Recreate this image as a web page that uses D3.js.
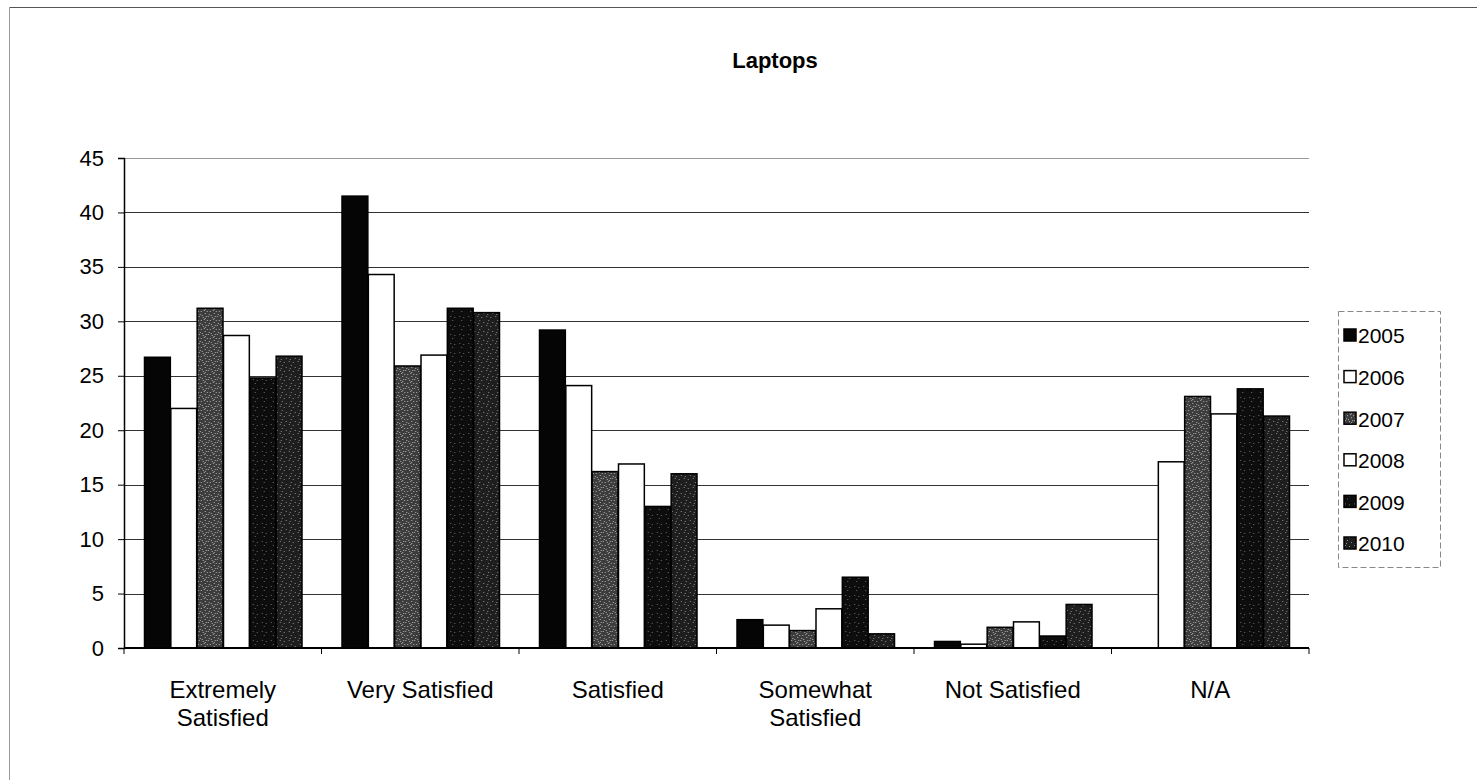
<!DOCTYPE html>
<html>
<head>
<meta charset="utf-8">
<script src="https://cdn.jsdelivr.net/npm/d3@7"></script>
<style>
  html, body { margin: 0; padding: 0; background: #fff; }
  svg { display: block; font-family: Arial, "Liberation Sans", sans-serif; }
</style>
</head>
<body>
<svg id="chart" width="1477" height="780"></svg>
<script>
const categories = [["Extremely", "Satisfied"], ["Very Satisfied"], ["Satisfied"], ["Somewhat", "Satisfied"], ["Not Satisfied"], ["N/A"]];
const years = ["2005", "2006", "2007", "2008", "2009", "2010"];
const v2005 = [26.7, 41.5, 29.2, 2.6, 0.6, 0];
const v2006 = [22.0, 34.3, 24.1, 2.1, 0.35, 17.1];
const v2007 = [31.2, 25.9, 16.2, 1.6, 1.9, 23.1];
const v2008 = [28.7, 26.9, 16.9, 3.6, 2.4, 21.5];
const v2009 = [24.8, 31.2, 13.0, 6.5, 1.1, 23.8];
const v2010 = [26.8, 30.8, 16.0, 1.3, 4.0, 21.3];
const yTicks = [0, 5, 10, 15, 20, 25, 30, 35, 40, 45];
const series = [v2005, v2006, v2007, v2008, v2009, v2010];

(function () {
const fills = ["#050505", "#ffffff", "url(#sp7)", "#ffffff", "url(#sp9)", "url(#sp10)"];

const svg = d3.select("#chart");
const defs = svg.append("defs");
function speckle(id, base, dot, n) {
  const p = defs.append("pattern").attr("id", id).attr("patternUnits", "userSpaceOnUse")
    .attr("width", 9).attr("height", 9);
  p.append("rect").attr("width", 9).attr("height", 9).attr("fill", base);
  const pts = [[1,1],[5,2],[3,5],[7,7],[2,8],[6,4],[8,1],[0,5],[4,0],[7,3]];
  pts.slice(0, n).forEach(([px, py]) => p.append("rect").attr("x", px).attr("y", py).attr("width", 1).attr("height", 1).attr("fill", dot));
}
speckle("sp7", "#3c3c3c", "#b0b0b0", 10);
speckle("sp9", "#0d0d0d", "#6a6a6a", 3);
speckle("sp10", "#1e1e1e", "#8a8a8a", 5);

svg.append("line").attr("x1", 9).attr("x2", 1477).attr("y1", 7.5).attr("y2", 7.5).attr("stroke", "#555").attr("stroke-width", 1);
svg.append("line").attr("x1", 9.5).attr("x2", 9.5).attr("y1", 7).attr("y2", 780).attr("stroke", "#999").attr("stroke-width", 1);

const pL = 124, pR = 1309, pT = 158, pB = 648;
const x0 = d3.scaleBand().domain(d3.range(categories.length)).range([pL, pR]).paddingInner(0.2).paddingOuter(0.1);
const x1 = d3.scaleBand().domain(d3.range(years.length)).range([0, x0.bandwidth()]);
const y = d3.scaleLinear().domain([0, 45]).range([pB, pT]);

svg.append("g").selectAll("line").data(yTicks.filter(d => d > 0)).join("line")
  .attr("x1", pL).attr("x2", pR)
  .attr("y1", d => Math.round(y(d)) + 0.5).attr("y2", d => Math.round(y(d)) + 0.5)
  .attr("stroke", d => d === 45 ? "#999" : "#333").attr("stroke-width", 1);

const groups = svg.append("g").selectAll("g").data(categories).join("g")
  .attr("transform", (d, i) => `translate(${x0(i)},0)`);
groups.selectAll("rect").data((d, i) => series.map((s, j) => ({ j, v: s[i] })).filter(e => e.v > 0)).join("rect")
  .attr("x", d => x1(d.j) + 0.75)
  .attr("width", x1.bandwidth() - 0.5)
  .attr("y", d => y(d.v))
  .attr("height", d => y(0) - y(d.v))
  .attr("fill", d => fills[d.j])
  .attr("stroke", "#000").attr("stroke-width", 1.5);

const yAxis = d3.axisLeft(y).tickValues(yTicks).tickSize(6).tickPadding(14).tickFormat(d3.format("d"));
const ga = svg.append("g").attr("transform", `translate(${pL},0)`).call(yAxis);
ga.select(".domain").attr("stroke", "#000").attr("stroke-width", 1.5);
ga.selectAll(".tick line").attr("stroke", "#000");
ga.selectAll(".tick text").attr("font-size", 22).attr("fill", "#000").attr("font-family", "Arial, 'Liberation Sans', sans-serif");

svg.append("line").attr("x1", pL).attr("x2", pR).attr("y1", pB).attr("y2", pB).attr("stroke", "#000").attr("stroke-width", 2);
const step = x0.step();
svg.append("g").selectAll("line").data(d3.range(categories.length + 1)).join("line")
  .attr("x1", i => pL + i * step).attr("x2", i => pL + i * step)
  .attr("y1", pB).attr("y2", pB + 6).attr("stroke", "#000");

const cl = svg.append("g").selectAll("text").data(categories).join("text")
  .attr("x", (d, i) => x0(i) + x0.bandwidth() / 2)
  .attr("y", 698)
  .attr("text-anchor", "middle").attr("font-size", 24).attr("fill", "#000");
cl.selectAll("tspan").data(d => d).join("tspan")
  .attr("x", function () { return d3.select(this.parentNode).attr("x"); })
  .attr("dy", (d, i) => i === 0 ? 0 : 28)
  .text(d => d);

svg.append("text").attr("x", 775).attr("y", 68).attr("text-anchor", "middle")
  .attr("font-size", 22).attr("font-weight", "bold").text("Laptops");

const lg = svg.append("g");
lg.append("rect").attr("x", 1338.5).attr("y", 311.5).attr("width", 102).attr("height", 256)
  .attr("fill", "#fff").attr("stroke", "#888").attr("stroke-width", 1).attr("stroke-dasharray", "6,3");
const li = lg.selectAll("g").data(years).join("g")
  .attr("transform", (d, i) => `translate(1344,${336 + i * 41.6})`);
li.append("rect").attr("x", 0).attr("y", -7).attr("width", 12).attr("height", 12)
  .attr("fill", (d, i) => fills[i]).attr("stroke", "#000").attr("stroke-width", 1.5);
li.append("text").attr("x", 14).attr("y", 0).attr("dy", "0.35em").attr("font-size", 21).text(d => d);
})();
</script>
</body>
</html>
